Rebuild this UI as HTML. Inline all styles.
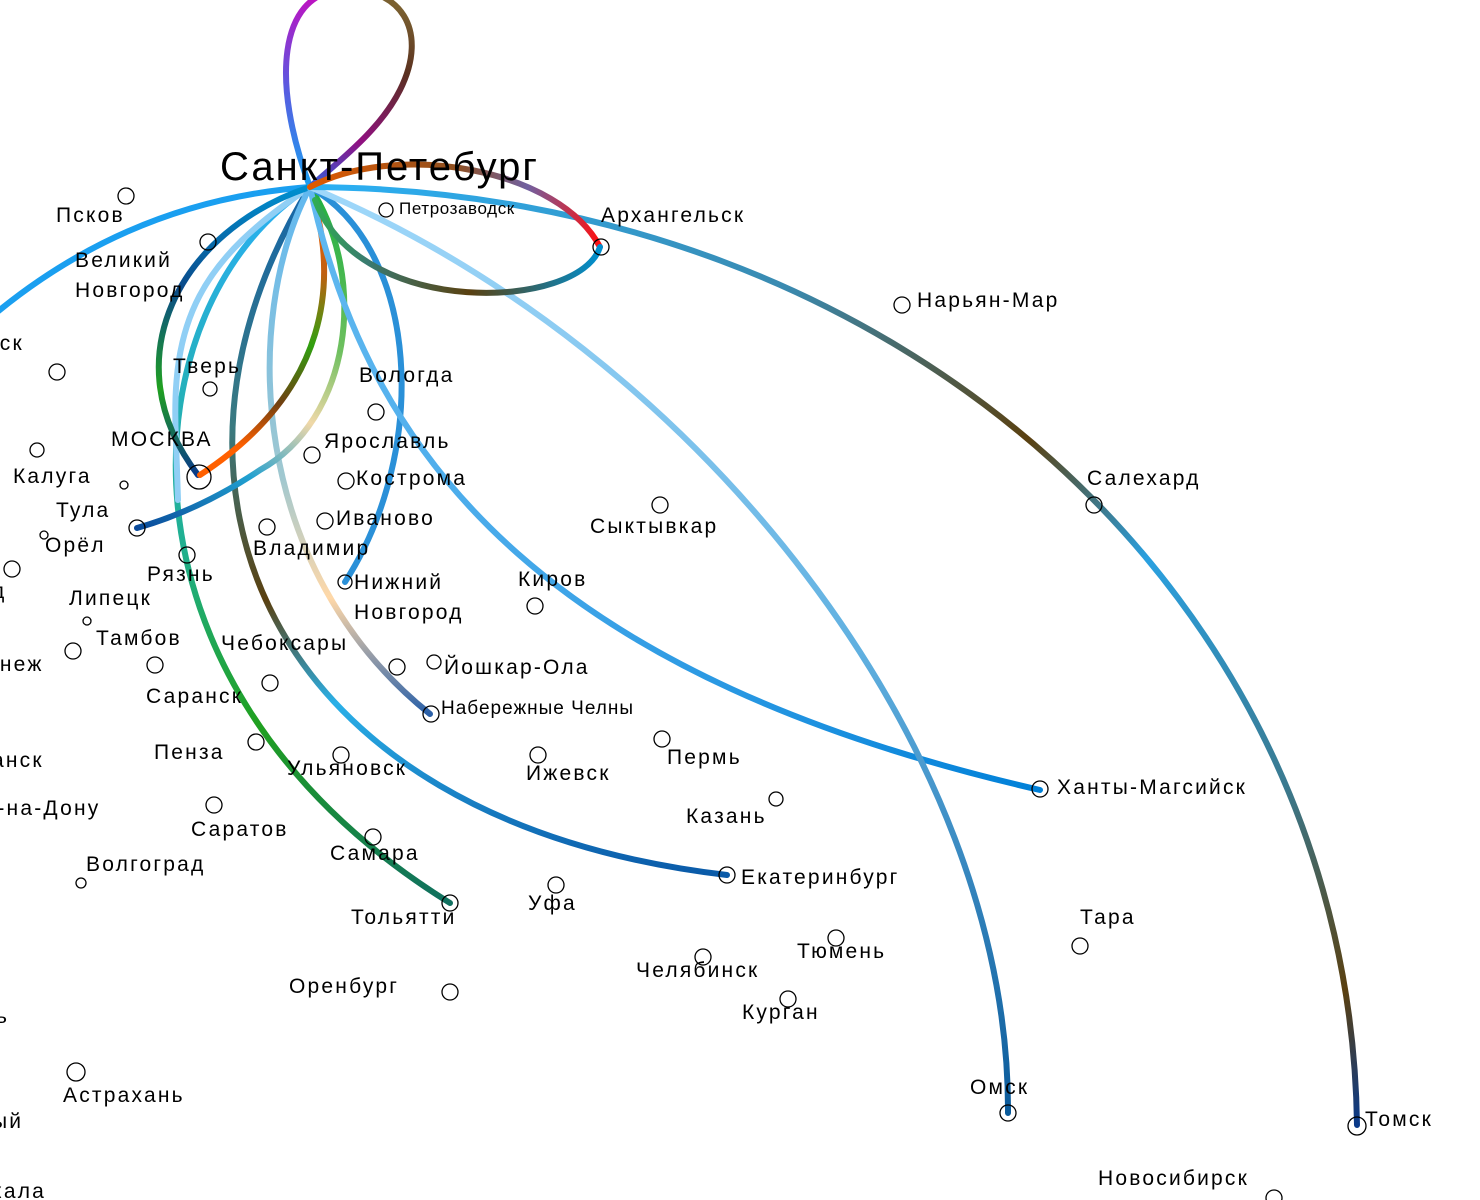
<!DOCTYPE html>
<html><head><meta charset="utf-8"><style>
html,body{margin:0;padding:0;background:#fff;}
svg{display:block;}
text{font-family:"Liberation Sans","DejaVu Sans",sans-serif;font-size:21px;fill:#000;letter-spacing:2.2px;}
</style></head><body>
<svg width="1480" height="1200" viewBox="0 0 1480 1200" xmlns="http://www.w3.org/2000/svg">
<defs>
<linearGradient id="gLoopL" gradientUnits="userSpaceOnUse" x1="310" y1="187" x2="340" y2="0"><stop offset="0" stop-color="#1a9ff0"/><stop offset="0.5" stop-color="#5a5ae0"/><stop offset="1" stop-color="#c010c0"/></linearGradient>
<linearGradient id="gLoopR" gradientUnits="userSpaceOnUse" x1="380" y1="0" x2="310" y2="187"><stop offset="0" stop-color="#7a6030"/><stop offset="0.3" stop-color="#5a3020"/><stop offset="0.7" stop-color="#901080"/><stop offset="1" stop-color="#3060e0"/></linearGradient>
<linearGradient id="gMosL" gradientUnits="userSpaceOnUse" x1="0" y1="187" x2="0" y2="475"><stop offset="0" stop-color="#0090d0"/><stop offset="0.35" stop-color="#0a4a8a"/><stop offset="0.7" stop-color="#20a020"/><stop offset="1" stop-color="#0a3a8a"/></linearGradient>
<linearGradient id="gMosO" gradientUnits="userSpaceOnUse" x1="0" y1="187" x2="0" y2="475"><stop offset="0" stop-color="#ff6000"/><stop offset="0.3" stop-color="#c06010"/><stop offset="0.55" stop-color="#30a010"/><stop offset="0.75" stop-color="#704010"/><stop offset="0.9" stop-color="#ff6000"/><stop offset="1" stop-color="#ff6000"/></linearGradient>
<linearGradient id="gTol" gradientUnits="userSpaceOnUse" x1="0" y1="187" x2="0" y2="903"><stop offset="0" stop-color="#2ab0f5"/><stop offset="0.5" stop-color="#20b090"/><stop offset="0.75" stop-color="#20a020"/><stop offset="1" stop-color="#107060"/></linearGradient>
<linearGradient id="gEka" gradientUnits="userSpaceOnUse" x1="0" y1="187" x2="0" y2="875"><stop offset="0" stop-color="#1565a8"/><stop offset="0.35" stop-color="#3a7a80"/><stop offset="0.6" stop-color="#5a4010"/><stop offset="0.75" stop-color="#2ab0e8"/><stop offset="1" stop-color="#0a5aa8"/></linearGradient>
<linearGradient id="gNab" gradientUnits="userSpaceOnUse" x1="0" y1="187" x2="0" y2="714"><stop offset="0" stop-color="#60b8f0"/><stop offset="0.55" stop-color="#a0c8d0"/><stop offset="0.78" stop-color="#ffd8a8"/><stop offset="1" stop-color="#2a60a8"/></linearGradient>
<linearGradient id="gTula" gradientUnits="userSpaceOnUse" x1="310" y1="187" x2="137" y2="528"><stop offset="0" stop-color="#20b040"/><stop offset="0.35" stop-color="#70c060"/><stop offset="0.55" stop-color="#f0d8a8"/><stop offset="0.75" stop-color="#20a0d0"/><stop offset="1" stop-color="#0a4a9a"/></linearGradient>
<linearGradient id="gArch" gradientUnits="userSpaceOnUse" x1="310" y1="0" x2="600" y2="0"><stop offset="0" stop-color="#e05a00"/><stop offset="0.5" stop-color="#905020"/><stop offset="0.75" stop-color="#7060a0"/><stop offset="1" stop-color="#ff1010"/></linearGradient>
<linearGradient id="gArch2" gradientUnits="userSpaceOnUse" x1="600" y1="0" x2="310" y2="0"><stop offset="0" stop-color="#0090d0"/><stop offset="0.45" stop-color="#5a4010"/><stop offset="0.8" stop-color="#3a7a70"/><stop offset="1" stop-color="#30b050"/></linearGradient>
<linearGradient id="gTomsk" gradientUnits="userSpaceOnUse" x1="310" y1="187" x2="1357" y2="1125"><stop offset="0" stop-color="#2ab0f5"/><stop offset="0.3" stop-color="#3a8ab0"/><stop offset="0.5" stop-color="#5a4010"/><stop offset="0.62" stop-color="#2aa0e0"/><stop offset="0.8" stop-color="#3a7a90"/><stop offset="0.93" stop-color="#5a4010"/><stop offset="1" stop-color="#0a3a8a"/></linearGradient>
<linearGradient id="gOmsk" gradientUnits="userSpaceOnUse" x1="0" y1="187" x2="0" y2="1113"><stop offset="0" stop-color="#a0d8fa"/><stop offset="0.5" stop-color="#60b0e0"/><stop offset="1" stop-color="#0a5a9a"/></linearGradient>
<linearGradient id="gKhan" gradientUnits="userSpaceOnUse" x1="310" y1="0" x2="1040" y2="0"><stop offset="0" stop-color="#60b8f0"/><stop offset="1" stop-color="#0080d8"/></linearGradient>
</defs>
<g fill="none" stroke-width="6" stroke-linecap="round">
<path d="M310,187 C 270,80 280,-5 340,-10" stroke="url(#gLoopL)"/>
<path d="M340,-10 C 400,-15 430,30 400,90 C 380,130 340,160 310,187" stroke="url(#gLoopR)"/>
<path d="M310,187 Q 130,200 -10,318" stroke="#1a9ff0"/>
<path d="M310,187 C 130,480 260,820 727,875" stroke="url(#gEka)"/>
<path d="M310,187 C 130,300 90,680 450,903" stroke="url(#gTol)"/>
<path d="M310,187 C 200,260 170,320 176,440 L 178,500" stroke="#90cff5"/>
<path d="M310,187 C 240,320 250,570 430,714" stroke="url(#gNab)"/>
<path d="M310,187 C 180,230 110,360 198,475" stroke="url(#gMosL)"/>
<path d="M310,187 C 340,280 330,390 200,475" stroke="url(#gMosO)"/>
<path d="M310,187 C 370,280 350,420 260,470 Q 200,510 137,528" stroke="url(#gTula)"/>
<path d="M310,187 C 420,250 430,450 345,582" stroke="#2a90d8"/>
<path d="M310,187 C 370,470 560,680 1040,790" stroke="url(#gKhan)"/>
<path d="M310,187 C 700,350 1010,750 1008,1113" stroke="url(#gOmsk)"/>
<path d="M310,187 C 900,190 1350,600 1357,1125" stroke="url(#gTomsk)"/>
<path d="M310,187 C 400,140 560,170 600,247" stroke="url(#gArch)"/>
<path d="M600,247 C 580,310 360,320 315,200" stroke="url(#gArch2)"/>
</g>
<g fill="none" stroke="#000" stroke-width="1.3">
<circle cx="126" cy="196" r="8"/><circle cx="386" cy="210" r="7"/><circle cx="601" cy="247" r="8"/>
<circle cx="208" cy="242" r="8"/><circle cx="902" cy="305" r="8"/><circle cx="57" cy="372" r="8"/>
<circle cx="210" cy="389" r="7"/><circle cx="376" cy="412" r="8"/><circle cx="37" cy="450" r="7"/>
<circle cx="312" cy="455" r="8"/><circle cx="199" cy="477" r="12"/><circle cx="124" cy="485" r="4"/>
<circle cx="346" cy="481" r="8"/><circle cx="660" cy="505" r="8"/><circle cx="1094" cy="505" r="8"/>
<circle cx="137" cy="528" r="8"/><circle cx="267" cy="527" r="8"/><circle cx="325" cy="521" r="8"/>
<circle cx="44" cy="535" r="4"/><circle cx="187" cy="555" r="8"/><circle cx="12" cy="569" r="8"/>
<circle cx="345" cy="582" r="7"/><circle cx="535" cy="606" r="8"/><circle cx="87" cy="621" r="4"/>
<circle cx="73" cy="651" r="8"/><circle cx="155" cy="665" r="8"/><circle cx="397" cy="667" r="8"/>
<circle cx="434" cy="662" r="7"/><circle cx="270" cy="683" r="8"/><circle cx="431" cy="714" r="8"/>
<circle cx="662" cy="739" r="8"/><circle cx="256" cy="742" r="8"/><circle cx="341" cy="755" r="8"/>
<circle cx="538" cy="755" r="8"/><circle cx="1040" cy="789" r="8"/><circle cx="776" cy="799" r="7"/>
<circle cx="214" cy="805" r="8"/><circle cx="373" cy="837" r="8"/><circle cx="727" cy="875" r="8"/>
<circle cx="81" cy="883" r="5"/><circle cx="556" cy="885" r="8"/><circle cx="450" cy="903" r="8"/>
<circle cx="836" cy="938" r="8"/><circle cx="1080" cy="946" r="8"/><circle cx="703" cy="957" r="8"/>
<circle cx="450" cy="992" r="8"/><circle cx="788" cy="999" r="8"/><circle cx="76" cy="1072" r="9"/>
<circle cx="1008" cy="1113" r="8"/><circle cx="1357" cy="1126" r="9"/><circle cx="1274" cy="1198" r="8"/>
</g>
<text x="220" y="180" style="font-size:40px;letter-spacing:2px">Санкт-Петебург</text>
<text x="56" y="222">Псков</text>
<text x="399" y="214" style="font-size:17px;letter-spacing:0.6px">Петрозаводск</text>
<text x="601" y="222">Архангельск</text>
<text x="75" y="267">Великий</text>
<text x="75" y="297">Новгород</text>
<text x="917" y="307">Нарьян-Мар</text>
<text x="-14" y="350">нск</text>
<text x="173" y="373">Тверь</text>
<text x="359" y="382">Вологда</text>
<text x="111" y="446">МОСКВА</text>
<text x="324" y="448">Ярославль</text>
<text x="-10" y="446">к</text>
<text x="13" y="483">Калуга</text>
<text x="356" y="485">Кострома</text>
<text x="1087" y="485">Салехард</text>
<text x="56" y="517">Тула</text>
<text x="336" y="525">Иваново</text>
<text x="590" y="533">Сыктывкар</text>
<text x="45" y="552">Орёл</text>
<text x="253" y="555">Владимир</text>
<text x="147" y="581">Рязнь</text>
<text x="-8" y="598">д</text>
<text x="354" y="589">Нижний</text>
<text x="518" y="586">Киров</text>
<text x="69" y="605">Липецк</text>
<text x="354" y="619">Новгород</text>
<text x="96" y="645">Тамбов</text>
<text x="221" y="650">Чебоксары</text>
<text x="-14" y="671">онеж</text>
<text x="444" y="674">Йошкар-Ола</text>
<text x="146" y="703">Саранск</text>
<text x="441" y="714" style="font-size:19px;letter-spacing:1px">Набережные  Челны</text>
<text x="154" y="759">Пенза</text>
<text x="667" y="764">Пермь</text>
<text x="-8" y="767">анск</text>
<text x="287" y="775">Ульяновск</text>
<text x="526" y="780">Ижевск</text>
<text x="1057" y="794">Ханты-Магсийск</text>
<text x="-16" y="815">в-на-Дону</text>
<text x="686" y="823">Казань</text>
<text x="191" y="836">Саратов</text>
<text x="330" y="860">Самара</text>
<text x="86" y="871">Волгоград</text>
<text x="741" y="884">Екатеринбург</text>
<text x="528" y="910">Уфа</text>
<text x="351" y="924">Тольятти</text>
<text x="1080" y="924">Тара</text>
<text x="797" y="958">Тюмень</text>
<text x="636" y="977">Челябинск</text>
<text x="289" y="993">Оренбург</text>
<text x="742" y="1019">Курган</text>
<text x="-4" y="1023">ь</text>
<text x="970" y="1094">Омск</text>
<text x="63" y="1102">Астрахань</text>
<text x="1365" y="1126">Томск</text>
<text x="-8" y="1128">ый</text>
<text x="1098" y="1185">Новосибирск</text>
<text x="-8" y="1198">кала</text>
</svg>
</body></html>
